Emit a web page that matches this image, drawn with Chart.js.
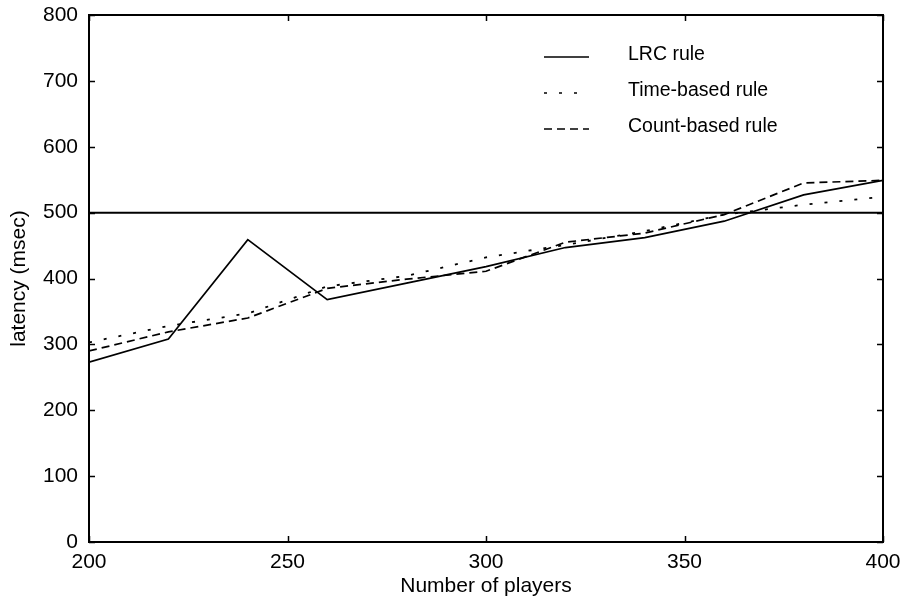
<!DOCTYPE html>
<html>
<head>
<meta charset="utf-8">
<script src="https://cdn.jsdelivr.net/npm/chart.js@4.4.0/dist/chart.umd.min.js"></script>
<style>
    html, body { margin: 0; padding: 0; background: #fff; }
    #wrap { width: 907px; height: 604px; }
</style>
</head>
<body>
<div id="wrap"><canvas id="grafico1"></canvas></div>
<script>
// numero de jogadores (eixo x)
const jogadores = [200, 220, 240, 260, 280, 300, 320, 340, 360, 380, 400];
// latencia em msec
const lrcRule = [273, 308, 459, 368, 393, 418, 447, 462, 487, 527, 549];
const timeBased = [303, 328, 347, 388, 404, 432, 451, 472, 497, 512, 524];
const countBased = [290, 319, 340, 385, 399, 411, 455, 469, 497, 545, 549];
const limite = 500;
const nomesSeries = ['LRC rule', 'Time-based rule', 'Count-based rule'];
const xTicks = [200, 250, 300, 350, 400];
const yTicks = [0, 100, 200, 300, 400, 500, 600, 700, 800];

const fonte = 'Liberation Sans, Arial, Helvetica, sans-serif';

function pontos(valores) {
    return jogadores.map((j, i) => ({ x: j, y: valores[i] }));
}

// moldura, marcas de escala para dentro e legenda dentro do grafico
const moldura = {
    id: 'moldura',
    afterDatasetsDraw(chart) {
        const { ctx, chartArea: a, scales: { x, y } } = chart;
        ctx.save();
        ctx.strokeStyle = '#000';
        ctx.lineWidth = 2;
        ctx.strokeRect(a.left, a.top, a.right - a.left, a.bottom - a.top);

        ctx.lineWidth = 1.5;
        ctx.beginPath();
        y.ticks.forEach(t => {
            const py = Math.round(y.getPixelForValue(t.value)) + 0.5;
            ctx.moveTo(a.left, py); ctx.lineTo(a.left + 6, py);
            ctx.moveTo(a.right, py); ctx.lineTo(a.right - 6, py);
        });
        x.ticks.forEach(t => {
            const px = Math.round(x.getPixelForValue(t.value)) + 0.5;
            ctx.moveTo(px, a.bottom); ctx.lineTo(px, a.bottom - 6);
            ctx.moveTo(px, a.top); ctx.lineTo(px, a.top + 6);
        });
        ctx.stroke();

        // legenda
        ctx.font = '19.5px ' + fonte;
        ctx.fillStyle = '#000';
        ctx.textBaseline = 'middle';
        ctx.textAlign = 'left';
        for (let i = 0; i < 3; i++) {
            const ds = chart.data.datasets[i];
            const ly = a.top + 42 + i * 36;
            ctx.beginPath();
            ctx.lineWidth = 1.7;
            ctx.setLineDash(ds.borderDash || []);
            ctx.moveTo(a.left + 455, ly);
            ctx.lineTo(a.left + 500, ly);
            ctx.stroke();
            ctx.setLineDash([]);
            ctx.fillText(ds.label, a.left + 539, ly - 2);
        }
        ctx.restore();
    }
};

const ctx = document.getElementById('grafico1').getContext('2d');
const myChart = new Chart(ctx, {
    type: 'line',
    data: {
        datasets: [
            {
                label: nomesSeries[0],
                data: pontos(lrcRule),
                borderColor: '#000',
                borderWidth: 1.7,
                pointRadius: 0,
                fill: false,
                tension: 0
            },
            {
                label: nomesSeries[1],
                data: pontos(timeBased),
                borderColor: '#000',
                borderWidth: 1.8,
                borderDash: [3, 12],
                pointRadius: 0,
                fill: false,
                tension: 0
            },
            {
                label: nomesSeries[2],
                data: pontos(countBased),
                borderColor: '#000',
                borderWidth: 1.7,
                borderDash: [8, 5],
                pointRadius: 0,
                fill: false,
                tension: 0
            },
            {
                label: 'limite',
                data: [{ x: jogadores[0], y: limite }, { x: jogadores[jogadores.length - 1], y: limite }],
                borderColor: '#000',
                borderWidth: 2,
                pointRadius: 0,
                fill: false
            }
        ]
    },
    options: {
        responsive: true,
        maintainAspectRatio: false,
        animation: false,
        layout: { padding: { top: 15, right: 24, left: 0, bottom: 0 } },
        plugins: {
            legend: { display: false },
            tooltip: { enabled: false }
        },
        scales: {
            x: {
                type: 'linear',
                min: 200,
                max: 400,
                afterBuildTicks: scale => { scale.ticks = xTicks.map(v => ({ value: v })); },
                afterFit: scale => {
                    scale.height = 62;
                    scale.paddingLeft = 0;
                    scale.paddingRight = 0;
                },
                grid: { display: false, drawTicks: false },
                border: { display: false },
                ticks: {
                    color: '#000',
                    padding: 8,
                    maxRotation: 0,
                    font: { family: fonte, size: 21 }
                },
                title: {
                    display: true,
                    text: 'Number of players',
                    color: '#000',
                    padding: { top: 0, bottom: 5 },
                    font: { family: fonte, size: 21 }
                }
            },
            y: {
                min: 0,
                max: 800,
                afterBuildTicks: scale => { scale.ticks = yTicks.map(v => ({ value: v })); },
                afterFit: scale => {
                    scale.width = 89;
                    scale.paddingTop = 0;
                    scale.paddingBottom = 0;
                },
                grid: { display: false, drawTicks: false },
                border: { display: false },
                ticks: {
                    color: '#000',
                    padding: 11,
                    font: { family: fonte, size: 21 }
                },
                title: {
                    display: true,
                    text: 'latency (msec)',
                    color: '#000',
                    padding: { top: 7, bottom: 0 },
                    font: { family: fonte, size: 21 }
                }
            }
        }
    },
    plugins: [moldura]
});
</script>
</body>
</html>
